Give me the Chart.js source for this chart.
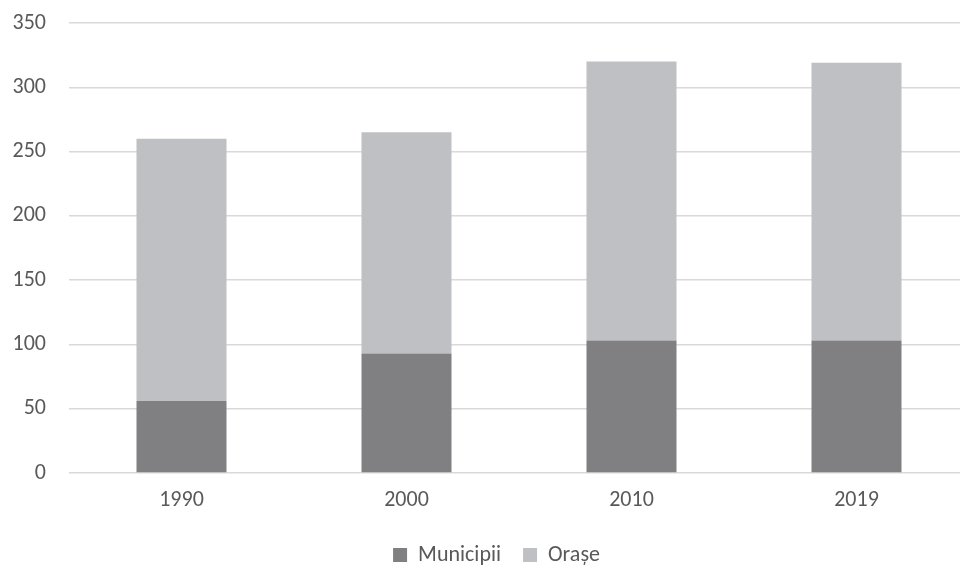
<!DOCTYPE html>
<html>
<head>
<meta charset="utf-8">
<script src="https://cdn.jsdelivr.net/npm/chart.js@4.4.1/dist/chart.umd.min.js"></script>
<style>
html,body{margin:0;padding:0;background:#fff;overflow:hidden;width:960px;height:569px;}
canvas{display:block;}
</style>
</head>
<body>
<canvas id="c" width="980" height="576" style="width:980px;height:576px"></canvas>
<script>
const categories = ['1990', '2000', '2010', '2019'];
const municipii = [56, 93, 103, 103];
const orase = [204, 172, 217, 216];
const yTicks = [0, 50, 100, 150, 200, 250, 300, 350];

const FONT = 'Carlito, Calibri, Lato, sans-serif';
const TXT = '#595959';

const legendShift = {
  id: 'legendShift',
  afterLayout(chart) {
    if (chart.legend) { chart.legend.left += 12; chart.legend.right += 12; }
  }
};

new Chart(document.getElementById('c'), {
  type: 'bar',
  data: {
    labels: categories,
    datasets: [
      { label: 'Municipii', data: municipii, backgroundColor: '#808083', barPercentage: 0.4, categoryPercentage: 1.0 },
      { label: 'Orașe', data: orase, backgroundColor: '#bfc0c3', barPercentage: 0.4, categoryPercentage: 1.0 }
    ]
  },
  plugins: [legendShift],
  options: {
    responsive: false,
    devicePixelRatio: 1,
    animation: false,
    layout: { padding: { left: 0, right: 11, top: 23, bottom: 0 } },
    plugins: {
      tooltip: { enabled: false },
      legend: {
        position: 'bottom',
        labels: { font: { family: FONT, size: 22 }, color: TXT, boxWidth: 14, boxHeight: 14, padding: 22 }
      }
    },
    scales: {
      x: {
        stacked: true,
        grid: { display: false, drawTicks: false },
        border: { display: false },
        ticks: { font: { family: FONT, size: 22 }, color: TXT, padding: 14 },
        afterFit: s => { s.height = 49; }
      },
      y: {
        stacked: true,
        min: 0, max: 350,
        afterBuildTicks: s => { s.ticks = yTicks.map(v => ({ value: v })); },
        grid: { color: '#d9d9d9', lineWidth: 1.5, drawTicks: true, tickLength: 23, tickColor: 'rgba(0,0,0,0)' },
        border: { display: false },
        ticks: { font: { family: FONT, size: 22 }, color: TXT, padding: 0 },
        afterFit: s => { s.width = 69; }
      }
    }
  }
});
</script>
</body>
</html>
